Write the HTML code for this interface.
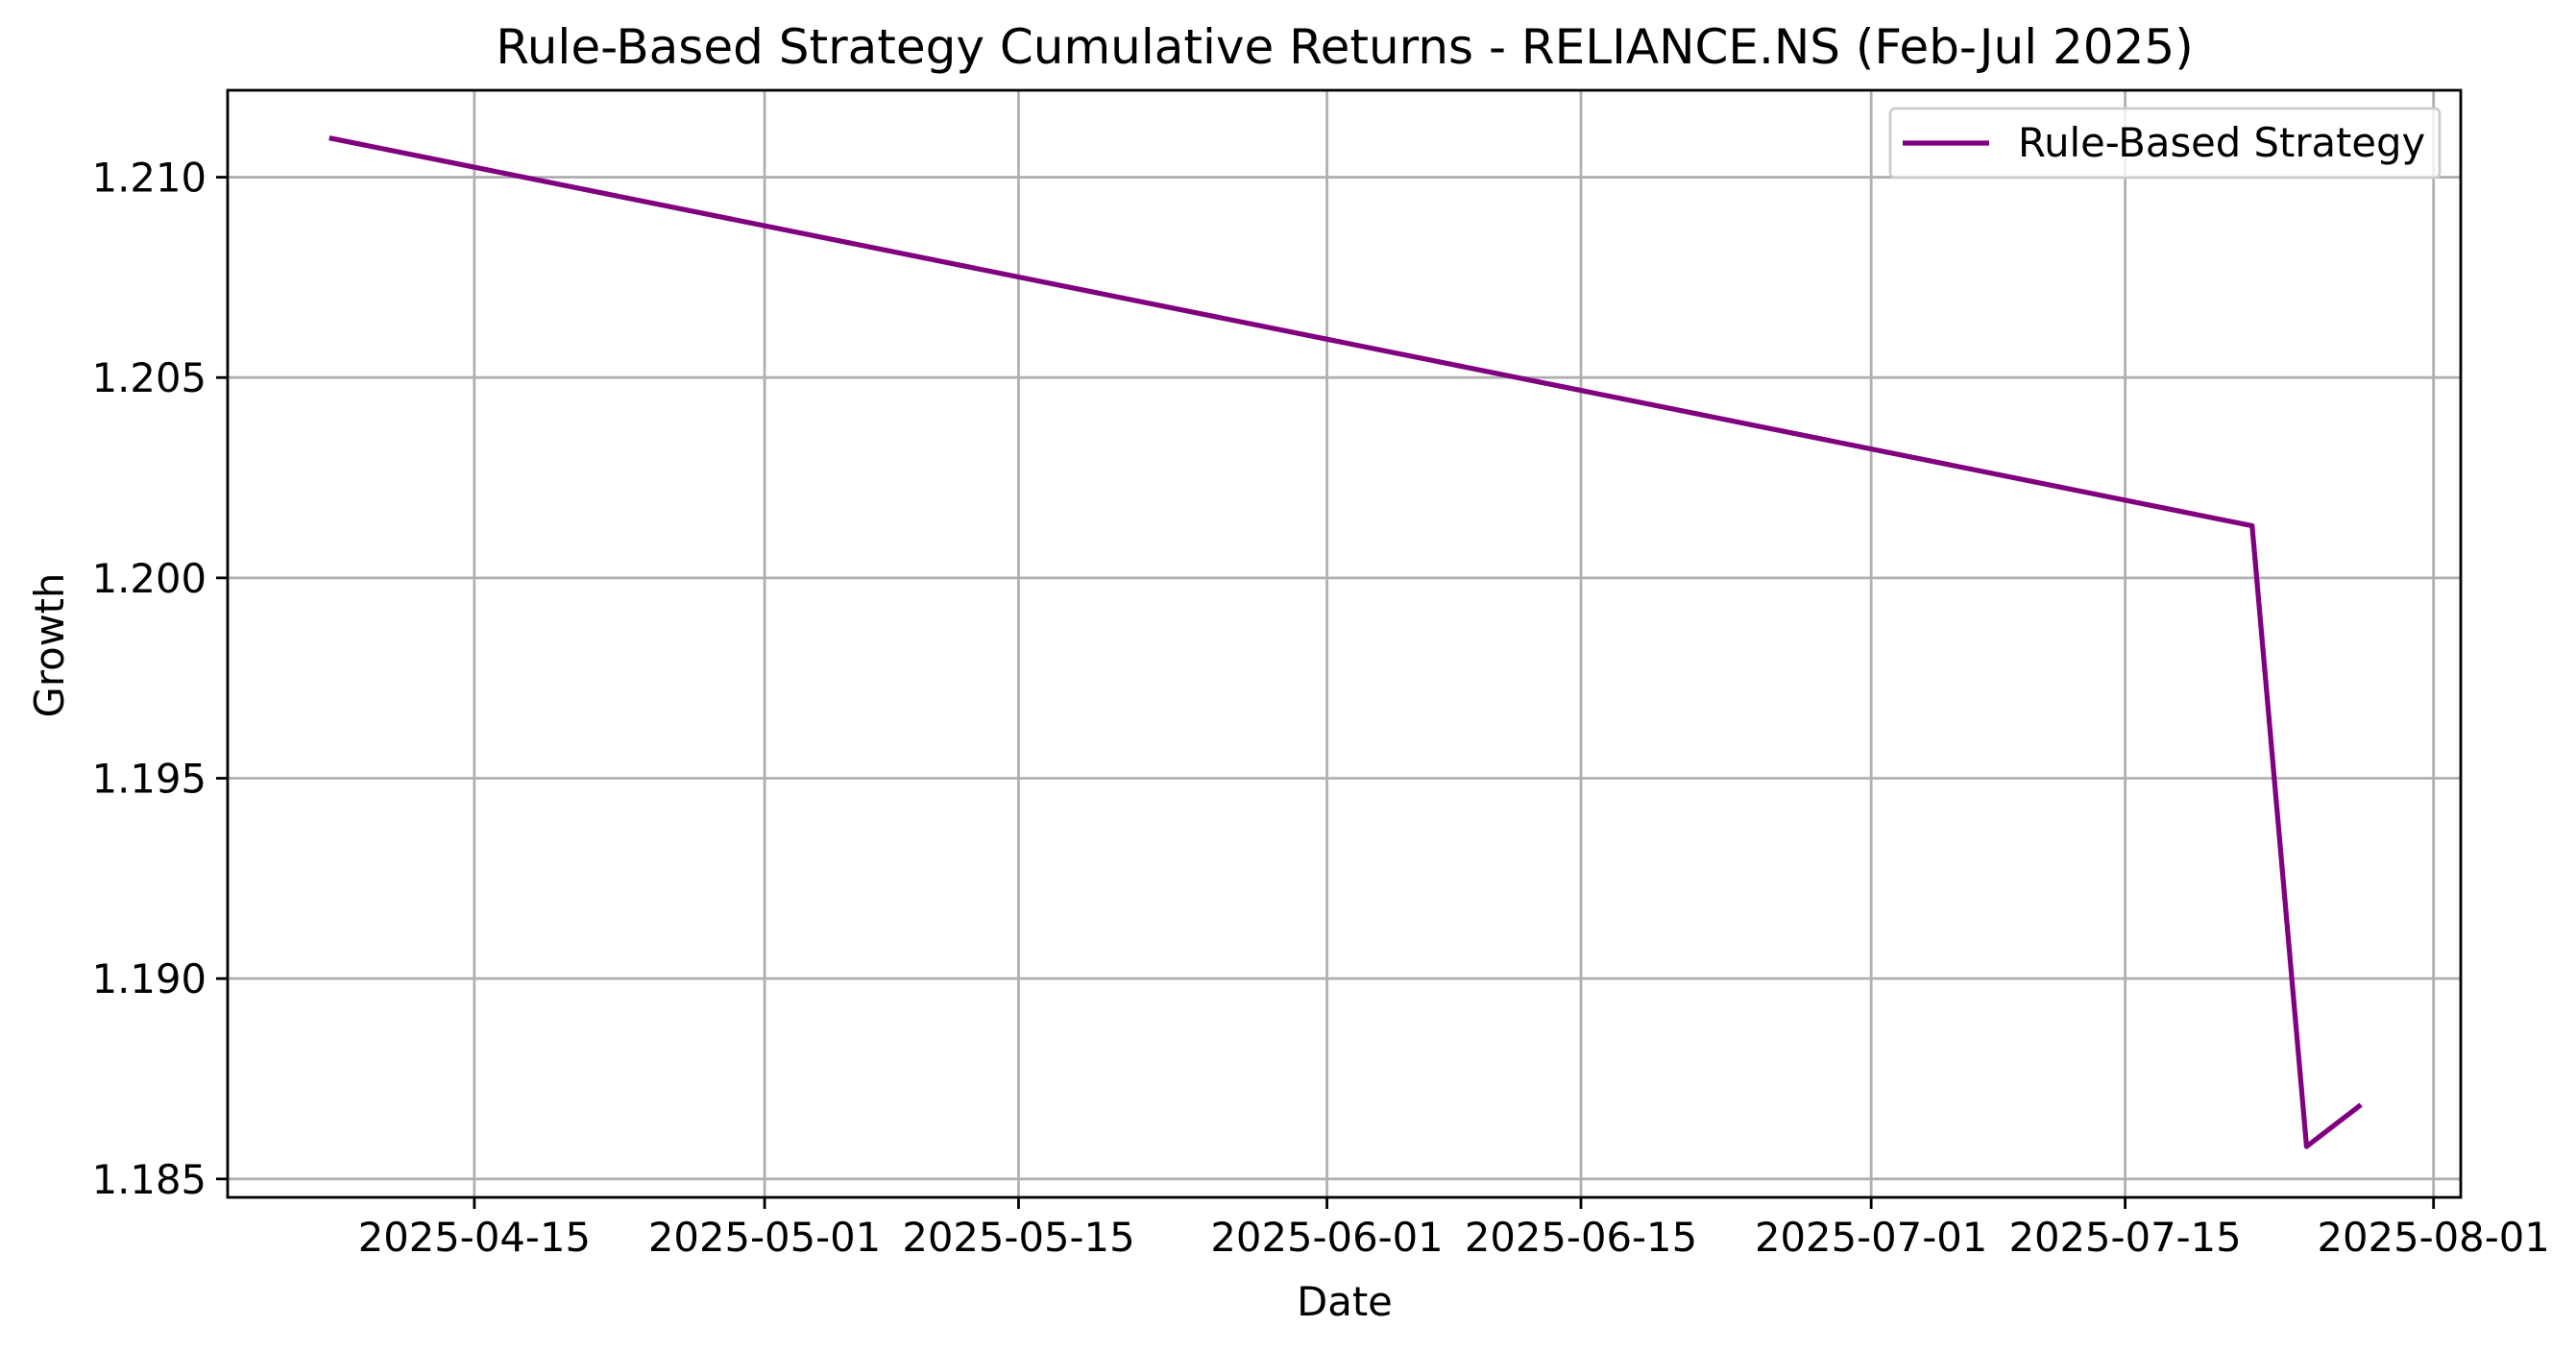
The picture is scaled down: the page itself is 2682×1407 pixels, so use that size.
<!DOCTYPE html>
<html><head><meta charset="utf-8"><style>
body{margin:0;background:#fff}
svg{display:block;font-family:"DejaVu Sans","Liberation Sans",sans-serif}
</style></head><body>
<svg id="chart" width="2682" height="1407" viewBox="0 0 2682 1407" xmlns="http://www.w3.org/2000/svg">
<rect width="2682" height="1407" fill="#fff"/>
<g id="grid"></g>
<g id="series"></g>
<rect x="237" y="94" width="2325" height="1153" fill="none" stroke="#000" stroke-width="2.8"/>
<g id="ticks"></g>
<text x="1400" y="66" font-size="50" text-anchor="middle">Rule-Based Strategy Cumulative Returns - RELIANCE.NS (Feb-Jul 2025)</text>
<text x="1400" y="1370" font-size="41.7" text-anchor="middle">Date</text>
<text x="0" y="0" font-size="41.7" text-anchor="middle" transform="translate(66,672) rotate(-90)">Growth</text>
<g>
<rect x="1968" y="113" width="572" height="72" rx="5" fill="#fff" fill-opacity="0.8" stroke="#ccc" stroke-width="2.8"/>
<line x1="1981" y1="149" x2="2071" y2="149" stroke="#800080" stroke-width="5.2"/>
<text x="2101" y="163" font-size="41.7">Rule-Based Strategy</text>
</g>
</svg>
<script>
const dates = ["2025-04-07","2025-07-22","2025-07-25","2025-07-28"];
const values = [1.21098,1.20130,1.18581,1.18685];
const xTickLabels = ["2025-04-15","2025-05-01","2025-05-15","2025-06-01","2025-06-15","2025-07-01","2025-07-15","2025-08-01"];
const yTickValues = [1.185,1.190,1.195,1.200,1.205,1.210];

const NS="http://www.w3.org/2000/svg";
const L=237,R=2562,T=94,B=1247;
const ref=Date.UTC(2025,3,15), DAY=86400000;
const d=s=>{const p=s.split('-');return (Date.UTC(+p[0],+p[1]-1,+p[2])-ref)/DAY;};
const x0=-13.6,x1=109.5,y0=1.18454,y1=1.21217;
const X=s=>L+(d(s)-x0)/(x1-x0)*(R-L);
const Y=v=>B-(v-y0)/(y1-y0)*(B-T);
function mk(tag,attrs,parent){const e=document.createElementNS(NS,tag);for(const k in attrs)e.setAttribute(k,attrs[k]);parent.appendChild(e);return e;}
const grid=document.getElementById('grid'),ticks=document.getElementById('ticks'),series=document.getElementById('series');
xTickLabels.forEach(t=>{const x=X(t);
 const g=mk('line',{x1:x,x2:x,y1:T,y2:B,stroke:'#b0b0b0','stroke-width':2.8},grid);
 
 
 const tk=mk('line',{x1:x,x2:x,y1:B,y2:B+12,stroke:'#000','stroke-width':2.8},ticks);
 
 
 const tx=mk('text',{x:x,y:B+56,'font-size':41.7,'text-anchor':'middle'},ticks);
 tx.textContent=t;
 
 
});
yTickValues.forEach(v=>{const y=Y(v);
 const g=mk('line',{x1:L,x2:R,y1:y,y2:y,stroke:'#b0b0b0','stroke-width':2.8},grid);
 
 
 const tk=mk('line',{x1:L-12,x2:L,y1:y,y2:y,stroke:'#000','stroke-width':2.8},ticks);
 
 
 const tx=mk('text',{x:L-22,y:y+15,'font-size':41.7,'text-anchor':'end'},ticks);
 tx.textContent=v.toFixed(3);
 
 
});
const pts=dates.map((s,i)=>X(s)+','+Y(values[i])).join(' ');
const pl=mk('polyline',{points:pts,fill:'none',stroke:'#800080','stroke-width':5.2,'stroke-linejoin':'round'},series);


</script>
</body></html>
